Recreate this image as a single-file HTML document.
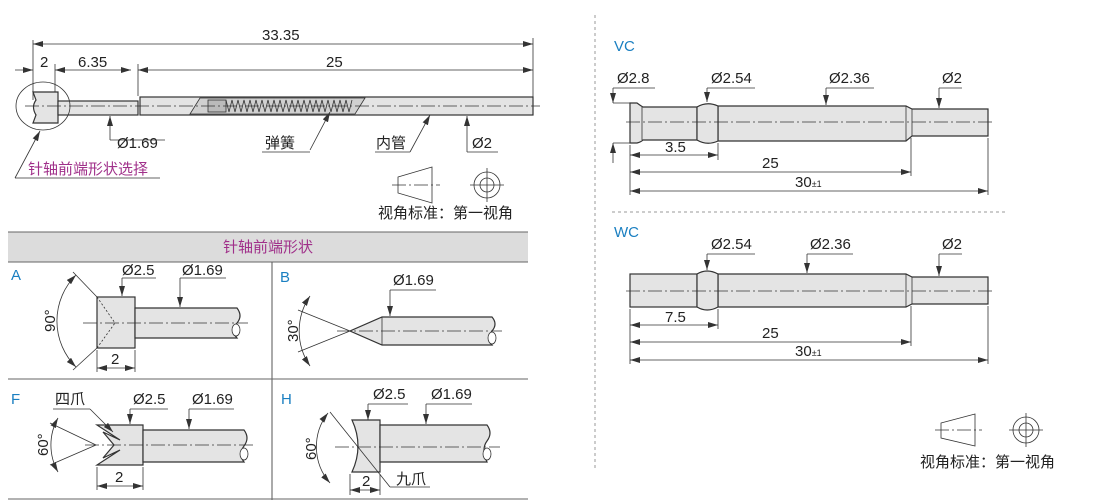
<!DOCTYPE html>
<html><head><meta charset="utf-8"><style>
html,body{margin:0;padding:0;background:#fff;}
svg{display:block;font-family:"Liberation Sans","Noto Sans CJK SC",sans-serif;}
.t{font-size:15px;fill:#222;}
.b{font-size:15px;fill:#1a7fc1;}
.m{font-size:15px;fill:#a0308a;}
.p{fill:#e4e4e4;stroke:#333;stroke-width:1.2;}
.l{stroke:#333;stroke-width:0.8;fill:none;}
.c{stroke:#333;stroke-width:0.7;fill:none;stroke-dasharray:14 3 2 3;}
</style></head><body>
<svg width="1110" height="500" viewBox="0 0 1110 500">
<defs>
<marker id="a" viewBox="0 0 10 6" refX="10" refY="3" markerWidth="10" markerHeight="6" orient="auto-start-reverse" markerUnits="userSpaceOnUse"><path d="M0,0L10,3L0,6z" fill="#333"/></marker>
</defs>

<!-- ===== TOP LEFT ===== -->
<line class="l" x1="33" y1="40" x2="33" y2="100"/>
<line class="l" x1="533" y1="38" x2="533" y2="100"/>
<line class="l" x1="33" y1="44" x2="533" y2="44" marker-start="url(#a)" marker-end="url(#a)"/>
<text class="t" x="262" y="40">33.35</text>
<line class="l" x1="15" y1="70" x2="33" y2="70" marker-end="url(#a)"/>
<line class="l" x1="55" y1="70" x2="131" y2="70" marker-start="url(#a)" marker-end="url(#a)"/>
<line class="l" x1="55" y1="64" x2="55" y2="95"/>
<line class="l" x1="138" y1="64" x2="138" y2="96"/>
<line class="l" x1="138" y1="70" x2="533" y2="70" marker-start="url(#a)" marker-end="url(#a)"/>
<text class="t" x="40" y="67">2</text>
<text class="t" x="78" y="67">6.35</text>
<text class="t" x="326" y="67">25</text>
<!-- pin -->
<path class="p" d="M33,92 L58,92 L58,123 L33,123 L36,115 Q31,107 36,100 Z"/>
<rect class="p" x="58" y="101" width="80" height="14"/>
<rect class="p" x="140" y="97" width="393" height="18"/>
<path d="M200,98 L365,98 L355,114 L190,114 Z" fill="#d0d0d0" stroke="#333" stroke-width="0.8"/>
<rect x="208" y="100" width="18" height="12" fill="#bbb" stroke="#333" stroke-width="0.8"/>
<polyline class="l" stroke-width="1" points="226,100 229,112 232,100 235,112 238,100 241,112 244,100 247,112 250,100 253,112 256,100 259,112 262,100 265,112 268,100 271,112 274,100 277,112 280,100 283,112 286,100 289,112 292,100 295,112 298,100 301,112 304,100 307,112 310,100 313,112 316,100 319,112 322,100 325,112 328,100 331,112 334,100 337,112 340,100 343,112 346,100 349,112 352,100"/>
<line class="c" x1="25" y1="106" x2="540" y2="106"/>
<ellipse class="l" cx="43" cy="106" rx="27" ry="24"/>
<!-- leaders -->
<line class="l" x1="110" y1="140" x2="110" y2="116" marker-end="url(#a)"/>
<polyline class="l" points="110,140 165,140"/>
<text class="t" x="117" y="148">Ø1.69</text>
<line class="l" x1="310" y1="150" x2="330" y2="112" marker-end="url(#a)"/>
<line class="l" x1="262" y1="152" x2="310" y2="152"/>
<text class="t" x="265" y="148">弹簧</text>
<line class="l" x1="410" y1="152" x2="430" y2="115" marker-end="url(#a)"/>
<line class="l" x1="375" y1="152" x2="410" y2="152"/>
<text class="t" x="376" y="148">内管</text>
<line class="l" x1="467" y1="152" x2="467" y2="116" marker-end="url(#a)"/>
<line class="l" x1="467" y1="152" x2="498" y2="152"/>
<text class="t" x="472" y="148">Ø2</text>
<line class="l" x1="15" y1="178" x2="40" y2="131" marker-end="url(#a)"/>
<line class="l" x1="15" y1="178" x2="160" y2="178"/>
<text class="m" x="28" y="174">针轴前端形状选择</text>
<!-- projection symbol -->
<path class="l" d="M398,177 L432,167 L432,203 L398,193 Z"/>
<line class="c" x1="392" y1="185" x2="440" y2="185"/>
<circle class="l" cx="487" cy="185" r="13"/>
<circle class="l" cx="487" cy="185" r="7"/>
<line class="l" x1="470" y1="185" x2="504" y2="185"/>
<line class="l" x1="487" y1="168" x2="487" y2="202"/>
<text class="t" x="378" y="218">视角标准：第一视角</text>

<!-- ===== TABLE ===== -->
<rect x="8" y="232" width="520" height="30" fill="#dcdcdc"/>
<line x1="8" y1="232" x2="528" y2="232" stroke="#666"/>
<line x1="8" y1="262" x2="528" y2="262" stroke="#666"/>
<text class="m" x="268" y="252" text-anchor="middle">针轴前端形状</text>
<line x1="272" y1="262" x2="272" y2="500" stroke="#555"/>
<line x1="8" y1="379" x2="528" y2="379" stroke="#666"/>
<line x1="8" y1="499" x2="528" y2="499" stroke="#666"/>

<!-- A -->
<text class="b" x="11" y="280">A</text>
<rect class="p" x="97" y="297" width="38" height="51"/>
<path class="p" d="M135,308 L237,308 Q243,316 237,323 Q230,330 237,338 L135,338 Z"/>
<ellipse cx="236" cy="330" rx="4" ry="6" fill="#fff" stroke="#333" stroke-width="0.8"/>
<line class="l" x1="97" y1="297" x2="115" y2="323" stroke-dasharray="2 2"/>
<line class="l" x1="97" y1="348" x2="115" y2="323" stroke-dasharray="2 2"/>
<line class="c" x1="83" y1="323" x2="248" y2="323"/>
<line class="l" x1="97" y1="297" x2="73" y2="272"/>
<line class="l" x1="97" y1="348" x2="73" y2="370"/>
<path class="l" d="M76,275 A65,65 0 0 0 76,367" marker-start="url(#a)" marker-end="url(#a)"/>
<text class="t" transform="translate(55,332) rotate(-90)">90°</text>
<line class="l" x1="97" y1="350" x2="97" y2="372"/>
<line class="l" x1="135" y1="350" x2="135" y2="372"/>
<line class="l" x1="97" y1="368" x2="135" y2="368" marker-start="url(#a)" marker-end="url(#a)"/>
<text class="t" x="111" y="364">2</text>
<line class="l" x1="122" y1="278" x2="122" y2="296" marker-end="url(#a)"/>
<line class="l" x1="122" y1="278" x2="156" y2="278"/>
<text class="t" x="122" y="275">Ø2.5</text>
<line class="l" x1="180" y1="278" x2="180" y2="307" marker-end="url(#a)"/>
<line class="l" x1="180" y1="278" x2="226" y2="278"/>
<text class="t" x="182" y="275">Ø1.69</text>

<!-- B -->
<text class="b" x="280" y="282">B</text>
<path class="p" d="M382,317 L492,317 Q498,324 492,331 Q486,338 492,345 L382,345 L350,331 Z"/>
<line class="l" x1="382" y1="317" x2="382" y2="345"/>
<ellipse cx="492" cy="338" rx="4" ry="6" fill="#fff" stroke="#333" stroke-width="0.8"/>
<line class="c" x1="337" y1="331" x2="502" y2="331"/>
<line class="l" x1="350" y1="331" x2="298" y2="310"/>
<line class="l" x1="350" y1="331" x2="298" y2="352"/>
<path class="l" d="M310,296 A62,62 0 0 0 310,366" marker-start="url(#a)" marker-end="url(#a)"/>
<text class="t" transform="translate(298,342) rotate(-90)">30°</text>
<line class="l" x1="390" y1="290" x2="390" y2="316" marker-end="url(#a)"/>
<line class="l" x1="390" y1="290" x2="436" y2="290"/>
<text class="t" x="393" y="285">Ø1.69</text>

<!-- F -->
<text class="b" x="11" y="404">F</text>
<path class="p" d="M97,425 L143,425 L143,465 L97,465 L120,450 L103,458 L114,445 L103,432 L120,440 Z"/>
<path class="p" d="M143,430 L244,430 Q250,438 244,446 Q238,454 244,462 L143,462 Z"/>
<ellipse cx="244" cy="454" rx="4" ry="6" fill="#fff" stroke="#333" stroke-width="0.8"/>
<line class="c" x1="85" y1="445" x2="253" y2="445"/>
<line class="l" x1="96" y1="445" x2="50" y2="423"/>
<line class="l" x1="96" y1="445" x2="50" y2="465"/>
<path class="l" d="M58,418 A55,55 0 0 0 58,472" marker-start="url(#a)" marker-end="url(#a)"/>
<text class="t" transform="translate(48,456) rotate(-90)">60°</text>
<line class="l" x1="90" y1="409" x2="113" y2="432" marker-end="url(#a)"/>
<line class="l" x1="53" y1="409" x2="90" y2="409"/>
<text class="t" x="55" y="404">四爪</text>
<line class="l" x1="130" y1="409" x2="130" y2="424" marker-end="url(#a)"/>
<line class="l" x1="130" y1="409" x2="168" y2="409"/>
<text class="t" x="133" y="404">Ø2.5</text>
<line class="l" x1="189" y1="409" x2="189" y2="429" marker-end="url(#a)"/>
<line class="l" x1="189" y1="409" x2="234" y2="409"/>
<text class="t" x="192" y="404">Ø1.69</text>
<line class="l" x1="97" y1="467" x2="97" y2="490"/>
<line class="l" x1="143" y1="467" x2="143" y2="490"/>
<line class="l" x1="97" y1="486" x2="143" y2="486" marker-start="url(#a)" marker-end="url(#a)"/>
<text class="t" x="115" y="482">2</text>

<!-- H -->
<text class="b" x="281" y="404">H</text>
<path class="p" d="M352,420 L380,420 L380,472 L352,472 Q364,446 352,420 Z"/>
<path class="p" d="M380,425 L487,425 Q493,433 487,441 Q481,449 487,462 L380,462 Z"/>
<ellipse cx="487" cy="454" rx="4" ry="6" fill="#fff" stroke="#333" stroke-width="0.8"/>
<line class="c" x1="335" y1="447" x2="500" y2="447"/>
<line class="l" x1="330" y1="412" x2="390" y2="487"/>
<path class="l" d="M328,413 A55,55 0 0 0 330,483" marker-start="url(#a)" marker-end="url(#a)"/>
<text class="t" transform="translate(316,460) rotate(-90)">60°</text>
<line class="l" x1="368" y1="404" x2="368" y2="420" marker-end="url(#a)"/>
<line class="l" x1="368" y1="404" x2="408" y2="404"/>
<text class="t" x="373" y="399">Ø2.5</text>
<line class="l" x1="426" y1="404" x2="426" y2="424" marker-end="url(#a)"/>
<line class="l" x1="426" y1="404" x2="472" y2="404"/>
<text class="t" x="431" y="399">Ø1.69</text>
<line class="l" x1="350" y1="474" x2="350" y2="495"/>
<line class="l" x1="380" y1="474" x2="380" y2="495"/>
<line class="l" x1="350" y1="490" x2="380" y2="490" marker-start="url(#a)" marker-end="url(#a)"/>
<text class="t" x="362" y="486">2</text>
<line class="l" x1="390" y1="487" x2="430" y2="487"/>
<text class="t" x="396" y="484">九爪</text>

<!-- ===== RIGHT ===== -->
<line x1="595" y1="15" x2="595" y2="470" stroke="#999" stroke-width="1" stroke-dasharray="3 3"/>
<line x1="612" y1="212" x2="1005" y2="212" stroke="#999" stroke-width="1" stroke-dasharray="3 3"/>

<!-- VC -->
<text class="b" x="614" y="51">VC</text>
<path class="p" d="M630,103 L637,103 Q641,106 643,107 L697,107 L697,140 L643,140 Q641,142 637,143 L630,143 Z"/>
<line class="l" x1="642" y1="107" x2="642" y2="140"/>
<path class="p" d="M718,106 L906,106 L912,109 L988,109 L988,136 L912,136 L906,141 L718,141 Z"/>
<line class="l" x1="906" y1="106" x2="906" y2="141"/>
<line class="l" x1="912" y1="109" x2="912" y2="136"/>
<path class="p" d="M697,107 Q707,101 718,106 L718,141 Q707,146 697,140 Z"/>
<line class="c" x1="626" y1="122" x2="995" y2="122"/>
<line class="l" x1="613" y1="103" x2="630" y2="103"/>
<line class="l" x1="613" y1="143" x2="630" y2="143"/>
<line class="l" x1="613" y1="88" x2="613" y2="103" marker-end="url(#a)"/>
<line class="l" x1="613" y1="163" x2="613" y2="143" marker-end="url(#a)"/>
<line class="l" x1="613" y1="88" x2="655" y2="88"/>
<text class="t" x="617" y="83">Ø2.8</text>
<line class="l" x1="707" y1="88" x2="707" y2="102" marker-end="url(#a)"/>
<line class="l" x1="707" y1="88" x2="755" y2="88"/>
<text class="t" x="711" y="83">Ø2.54</text>
<line class="l" x1="826" y1="88" x2="826" y2="105" marker-end="url(#a)"/>
<line class="l" x1="826" y1="88" x2="874" y2="88"/>
<text class="t" x="829" y="83">Ø2.36</text>
<line class="l" x1="939" y1="88" x2="939" y2="108" marker-end="url(#a)"/>
<line class="l" x1="939" y1="88" x2="962" y2="88"/>
<text class="t" x="942" y="83">Ø2</text>
<line class="l" x1="630" y1="145" x2="630" y2="195"/>
<line class="l" x1="718" y1="143" x2="718" y2="160"/>
<line class="l" x1="911" y1="138" x2="911" y2="176"/>
<line class="l" x1="988" y1="138" x2="988" y2="195"/>
<line class="l" x1="630" y1="155" x2="718" y2="155" marker-start="url(#a)" marker-end="url(#a)"/>
<text class="t" x="665" y="152">3.5</text>
<line class="l" x1="630" y1="172" x2="911" y2="172" marker-start="url(#a)" marker-end="url(#a)"/>
<text class="t" x="762" y="168">25</text>
<line class="l" x1="630" y1="191" x2="988" y2="191" marker-start="url(#a)" marker-end="url(#a)"/>
<text class="t" x="795" y="187">30<tspan font-size="9">±1</tspan></text>

<!-- WC -->
<text class="b" x="614" y="237">WC</text>
<rect class="p" x="630" y="274" width="67" height="33"/>
<path class="p" d="M718,274 L906,274 L912,277 L988,277 L988,304 L912,304 L906,307 L718,307 Z"/>
<line class="l" x1="906" y1="274" x2="906" y2="307"/>
<line class="l" x1="912" y1="277" x2="912" y2="304"/>
<path class="p" d="M697,274 Q707,268 718,274 L718,307 Q707,313 697,307 Z"/>
<line class="c" x1="626" y1="291" x2="995" y2="291"/>
<line class="l" x1="707" y1="254" x2="707" y2="270" marker-end="url(#a)"/>
<line class="l" x1="707" y1="254" x2="755" y2="254"/>
<text class="t" x="711" y="249">Ø2.54</text>
<line class="l" x1="807" y1="254" x2="807" y2="273" marker-end="url(#a)"/>
<line class="l" x1="807" y1="254" x2="853" y2="254"/>
<text class="t" x="810" y="249">Ø2.36</text>
<line class="l" x1="939" y1="254" x2="939" y2="276" marker-end="url(#a)"/>
<line class="l" x1="939" y1="254" x2="962" y2="254"/>
<text class="t" x="942" y="249">Ø2</text>
<line class="l" x1="630" y1="309" x2="630" y2="364"/>
<line class="l" x1="718" y1="309" x2="718" y2="329"/>
<line class="l" x1="911" y1="306" x2="911" y2="346"/>
<line class="l" x1="988" y1="306" x2="988" y2="364"/>
<line class="l" x1="630" y1="325" x2="718" y2="325" marker-start="url(#a)" marker-end="url(#a)"/>
<text class="t" x="665" y="322">7.5</text>
<line class="l" x1="630" y1="342" x2="911" y2="342" marker-start="url(#a)" marker-end="url(#a)"/>
<text class="t" x="762" y="338">25</text>
<line class="l" x1="630" y1="360" x2="988" y2="360" marker-start="url(#a)" marker-end="url(#a)"/>
<text class="t" x="795" y="356">30<tspan font-size="9">±1</tspan></text>

<!-- projection symbol bottom right -->
<path class="l" d="M941,423 L975,414 L975,446 L941,438 Z"/>
<line class="c" x1="935" y1="430" x2="982" y2="430"/>
<circle class="l" cx="1026" cy="430" r="13"/>
<circle class="l" cx="1026" cy="430" r="7"/>
<line class="l" x1="1009" y1="430" x2="1043" y2="430"/>
<line class="l" x1="1026" y1="413" x2="1026" y2="447"/>
<text class="t" x="920" y="467">视角标准：第一视角</text>
</svg>
</body></html>
